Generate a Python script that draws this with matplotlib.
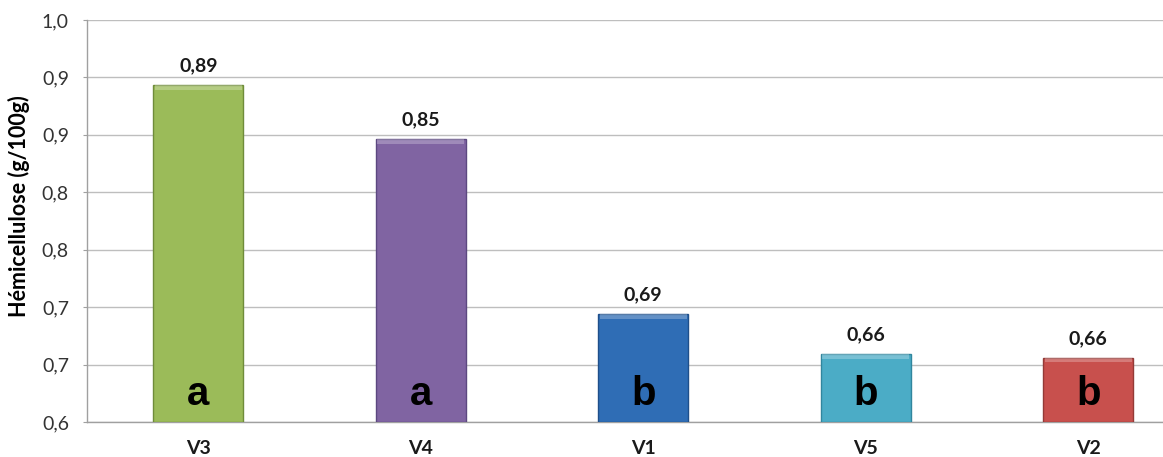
from decimal import Decimal, ROUND_HALF_UP

import matplotlib
matplotlib.use("Agg")
import matplotlib.pyplot as plt
from matplotlib.ticker import FuncFormatter, MultipleLocator

# data
VARIETIES = ["V3", "V4", "V1", "V5", "V2"]
HEMICELLULOSE = [0.893, 0.846, 0.694, 0.659, 0.656]
GROUPS = ["a", "a", "b", "b", "b"]
COLORS = ["#9BBB59", "#8064A2", "#2F6DB5", "#4BACC6", "#C8504D"]
EDGES = ["#6F8C3A", "#5C4880", "#1F4F8A", "#31869E", "#943A37"]
Y_MIN, Y_MAX, Y_STEP = 0.6, 0.95, 0.05

W, H = 1163, 457


def comma_fmt(v, nd):
    q = Decimal(1).scaleb(-nd)
    s = str(Decimal(str(round(v, 4))).quantize(q, rounding=ROUND_HALF_UP))
    return s.replace(".", ",")


def main():
    fig = plt.figure(figsize=(W / 100, H / 100), dpi=100)
    left, bottom, top = 87 / W, (H - 422) / H, (H - 20) / H
    ax = fig.add_axes([left, bottom, 1 - left, top - bottom])

    x = list(range(len(VARIETIES)))
    bar_w = 0.405
    ax.bar(x, [v - Y_MIN for v in HEMICELLULOSE], bottom=Y_MIN, width=bar_w,
           color=COLORS, edgecolor=EDGES, linewidth=1.0, zorder=3)
    # light bevel strip along the top of each bar
    band = 0.004
    ax.bar(x, [band] * len(x), bottom=[v - band for v in HEMICELLULOSE],
           width=bar_w * 0.96, color="white", alpha=0.25, linewidth=0, zorder=4)

    for xi, v, g in zip(x, HEMICELLULOSE, GROUPS):
        ax.annotate(comma_fmt(v, 2), (xi, v), xytext=(0, 10), textcoords="offset points",
                    ha="center", va="baseline", fontsize=14, fontweight="bold",
                    family="Lato", color="#1a1a1a", zorder=5)
        ax.annotate(g, (xi, Y_MIN), xytext=(0, 12.5), textcoords="offset points",
                    ha="center", va="baseline", fontsize=29, fontweight="bold",
                    family="Liberation Sans", color="black", zorder=5)

    ax.set_ylim(Y_MIN, Y_MAX)
    ax.set_xlim(-0.5, 4.5 - (1199.5 - W) / 222.5)
    ax.yaxis.set_major_locator(MultipleLocator(Y_STEP))
    ax.yaxis.set_major_formatter(FuncFormatter(lambda v, p: comma_fmt(v, 1)))
    ax.grid(axis="y", color="#BEBEBE", linewidth=1.0, zorder=0)
    ax.set_axisbelow(True)

    ax.set_xticks(x)
    ax.set_xticklabels(VARIETIES, fontsize=14, fontweight="bold", family="Lato", color="#1a1a1a")
    ax.tick_params(axis="x", length=0, pad=13)
    ax.tick_params(axis="y", length=3, color="#A0A0A0", pad=10, labelsize=14, labelcolor="#333333")
    for lab in ax.get_yticklabels():
        lab.set_family("Lato")

    for s in ("top", "right"):
        ax.spines[s].set_visible(False)
    for s in ("left", "bottom"):
        ax.spines[s].set_color("#A0A0A0")
        ax.spines[s].set_linewidth(1.0)

    ax.set_ylabel("Hémicellulose (g/100g)", fontsize=15.5, fontweight="bold", family="Lato", color="black")
    ax.yaxis.set_label_coords(-57 / (W - 87), 0.537)

    fig.savefig("out.png", dpi=100)
    plt.close(fig)


if __name__ == "__main__":
    main()
